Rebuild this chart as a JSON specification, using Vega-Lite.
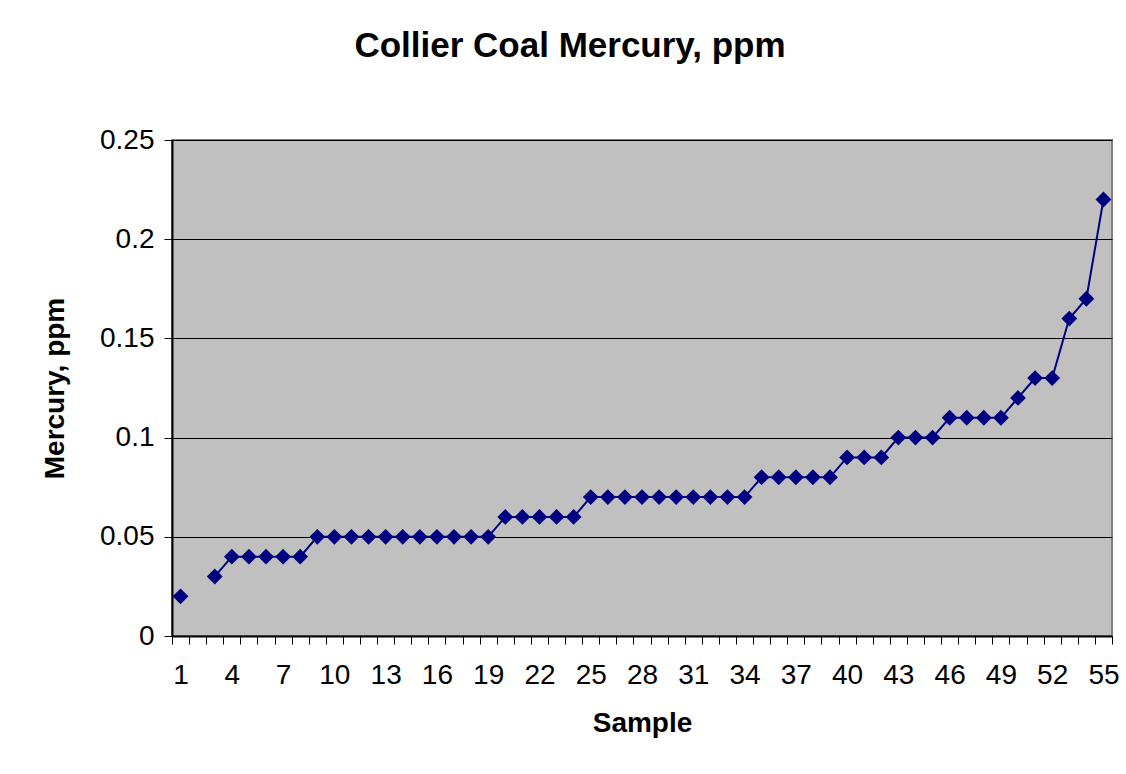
{
  "$schema": "https://vega.github.io/schema/vega-lite/v6.json",
  "autosize": {"type": "none"},
  "width": 940,
  "height": 496,
  "padding": {"left": 172, "top": 140, "right": 14, "bottom": 138},
  "background": "white",
  "title": {
    "text": "Collier Coal Mercury, ppm",
    "font": "Liberation Sans",
    "fontSize": 35,
    "fontWeight": "bold",
    "color": "black",
    "anchor": "middle",
    "dx": -72,
    "offset": 62
  },
  "config": {
    "font": "Liberation Sans",
    "view": {"fill": "#C0C0C0", "stroke": "#808080", "strokeWidth": 2},
    "axis": {"labelFont": "Liberation Sans", "titleFont": "Liberation Sans", "labelColor": "black", "titleColor": "black"}
  },
  "data": {
    "values": [
      {"sample": 1, "mercury": 0.02},
      {"sample": 2, "mercury": null},
      {"sample": 3, "mercury": 0.03},
      {"sample": 4, "mercury": 0.04},
      {"sample": 5, "mercury": 0.04},
      {"sample": 6, "mercury": 0.04},
      {"sample": 7, "mercury": 0.04},
      {"sample": 8, "mercury": 0.04},
      {"sample": 9, "mercury": 0.05},
      {"sample": 10, "mercury": 0.05},
      {"sample": 11, "mercury": 0.05},
      {"sample": 12, "mercury": 0.05},
      {"sample": 13, "mercury": 0.05},
      {"sample": 14, "mercury": 0.05},
      {"sample": 15, "mercury": 0.05},
      {"sample": 16, "mercury": 0.05},
      {"sample": 17, "mercury": 0.05},
      {"sample": 18, "mercury": 0.05},
      {"sample": 19, "mercury": 0.05},
      {"sample": 20, "mercury": 0.06},
      {"sample": 21, "mercury": 0.06},
      {"sample": 22, "mercury": 0.06},
      {"sample": 23, "mercury": 0.06},
      {"sample": 24, "mercury": 0.06},
      {"sample": 25, "mercury": 0.07},
      {"sample": 26, "mercury": 0.07},
      {"sample": 27, "mercury": 0.07},
      {"sample": 28, "mercury": 0.07},
      {"sample": 29, "mercury": 0.07},
      {"sample": 30, "mercury": 0.07},
      {"sample": 31, "mercury": 0.07},
      {"sample": 32, "mercury": 0.07},
      {"sample": 33, "mercury": 0.07},
      {"sample": 34, "mercury": 0.07},
      {"sample": 35, "mercury": 0.08},
      {"sample": 36, "mercury": 0.08},
      {"sample": 37, "mercury": 0.08},
      {"sample": 38, "mercury": 0.08},
      {"sample": 39, "mercury": 0.08},
      {"sample": 40, "mercury": 0.09},
      {"sample": 41, "mercury": 0.09},
      {"sample": 42, "mercury": 0.09},
      {"sample": 43, "mercury": 0.10},
      {"sample": 44, "mercury": 0.10},
      {"sample": 45, "mercury": 0.10},
      {"sample": 46, "mercury": 0.11},
      {"sample": 47, "mercury": 0.11},
      {"sample": 48, "mercury": 0.11},
      {"sample": 49, "mercury": 0.11},
      {"sample": 50, "mercury": 0.12},
      {"sample": 51, "mercury": 0.13},
      {"sample": 52, "mercury": 0.13},
      {"sample": 53, "mercury": 0.16},
      {"sample": 54, "mercury": 0.17},
      {"sample": 55, "mercury": 0.22}
    ]
  },
  "encoding": {
    "y": {
      "field": "mercury",
      "type": "quantitative",
      "scale": {"domain": [0, 0.25], "nice": false, "zero": true},
      "axis": {
        "title": "Mercury, ppm",
        "titleFontSize": 28,
        "titleFontWeight": "bold",
        "titlePadding": 30,
        "values": [0, 0.05, 0.1, 0.15, 0.2, 0.25],
        "format": ".2~f",
        "labelFontSize": 28,
        "labelPadding": 10,
        "tickSize": 8,
        "tickColor": "black",
        "domainColor": "black",
        "domainWidth": 2,
        "grid": true,
        "gridColor": "black",
        "gridWidth": 1
      }
    }
  },
  "layer": [
    {
      "mark": {"type": "line", "color": "#000080", "strokeWidth": 2, "invalid": "break-paths-show-domains"},
      "encoding": {
        "x": {
          "field": "sample",
          "type": "quantitative",
          "scale": {"domain": [0.5, 55.5], "nice": false, "zero": false},
          "axis": {
            "orient": "bottom",
            "title": null,
            "labels": false,
            "values": [0.5,1.5,2.5,3.5,4.5,5.5,6.5,7.5,8.5,9.5,10.5,11.5,12.5,13.5,14.5,15.5,16.5,17.5,18.5,19.5,20.5,21.5,22.5,23.5,24.5,25.5,26.5,27.5,28.5,29.5,30.5,31.5,32.5,33.5,34.5,35.5,36.5,37.5,38.5,39.5,40.5,41.5,42.5,43.5,44.5,45.5,46.5,47.5,48.5,49.5,50.5,51.5,52.5,53.5,54.5,55.5],
            "tickSize": 8,
            "tickColor": "black",
            "domainColor": "black",
            "domainWidth": 2,
            "grid": false
          }
        }
      }
    },
    {
      "mark": {"type": "point", "shape": "diamond", "filled": true, "color": "#000080", "size": 250, "opacity": 1},
      "encoding": {
        "x": {
          "field": "sample",
          "type": "quantitative",
          "axis": {
            "orient": "bottom",
            "title": "Sample",
            "titleFontSize": 28,
            "titleFontWeight": "bold",
            "titlePadding": 20,
            "values": [1,4,7,10,13,16,19,22,25,28,31,34,37,40,43,46,49,52,55],
            "labelFontSize": 28,
            "labelPadding": 25,
            "ticks": false,
            "domain": false,
            "grid": false,
            "labelOverlap": false,
            "labelFlush": false
          }
        }
      }
    }
  ],
  "resolve": {"axis": {"x": "independent"}}
}
